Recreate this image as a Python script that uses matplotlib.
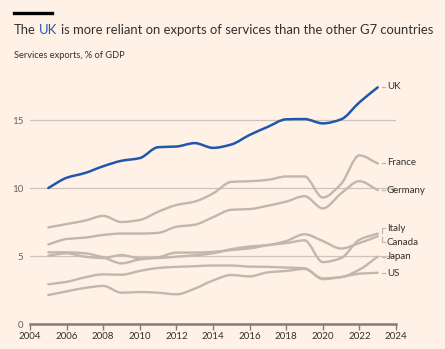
import numpy as np
import matplotlib
matplotlib.use("Agg")
import matplotlib.pyplot as plt
from matplotlib.path import Path
from matplotlib.patches import PathPatch
from matplotlib.font_manager import FontProperties

years = list(range(2005, 2024))
uk      = [10.0, 10.75, 11.1, 11.6, 12.0, 12.2, 13.0, 13.05, 13.3, 12.95, 13.2, 13.9, 14.5, 15.05, 15.07, 14.75, 15.05, 16.3, 17.4]
france  = [7.1, 7.35, 7.6, 7.95, 7.5, 7.65, 8.25, 8.75, 9.0, 9.6, 10.45, 10.5, 10.6, 10.85, 10.85, 9.3, 10.3, 12.4, 11.8]
germany = [5.85, 6.25, 6.35, 6.55, 6.65, 6.65, 6.7, 7.15, 7.3, 7.85, 8.4, 8.45, 8.7, 9.0, 9.4, 8.5, 9.6, 10.5, 9.85]
italy   = [5.27, 5.27, 5.2, 4.9, 4.46, 4.75, 4.9, 5.25, 5.25, 5.3, 5.44, 5.56, 5.8, 5.95, 6.15, 4.55, 4.85, 6.2, 6.65]
canada  = [5.02, 5.2, 4.95, 4.85, 5.07, 4.83, 4.85, 4.95, 5.05, 5.2, 5.5, 5.7, 5.8, 6.1, 6.6, 6.1, 5.55, 5.95, 6.45]
japan   = [2.13, 2.4, 2.65, 2.8, 2.3, 2.35, 2.3, 2.18, 2.6, 3.2, 3.6, 3.5, 3.8, 3.9, 4.05, 3.35, 3.45, 4.0, 4.95]
us      = [2.92, 3.1, 3.43, 3.65, 3.62, 3.9, 4.12, 4.2, 4.25, 4.3, 4.3, 4.22, 4.2, 4.15, 4.1, 3.3, 3.45, 3.7, 3.77]

others = {"France": france, "Germany": germany, "Italy": italy, "Canada": canada, "Japan": japan, "US": us}
label_y = {"UK": 17.43, "France": 11.84, "Germany": 9.85, "Italy": 6.99, "Canada": 5.96, "Japan": 4.93, "US": 3.75}

yticks = [0, 5, 10, 15]
xticks = list(range(2004, 2025, 2))

BG = "#FFF1E5"
BLUE = "#1f57ad"
GREY = "#c1b7ad"
TXT = "#33302e"
SUB = "#66605c"


def smooth_path(xs, ys):
    xs = np.asarray(xs, float)
    ys = np.asarray(ys, float)
    h = np.diff(xs)
    d = np.diff(ys) / h
    n = len(xs)
    m = np.zeros(n)
    m[0] = d[0]
    m[-1] = d[-1]
    for i in range(1, n - 1):
        if d[i - 1] * d[i] <= 0:
            m[i] = 0
        else:
            m[i] = 3 * (h[i - 1] + h[i]) / ((2 * h[i] + h[i - 1]) / d[i - 1] + (h[i] + 2 * h[i - 1]) / d[i])
    verts = [(xs[0], ys[0])]
    codes = [Path.MOVETO]
    for i in range(n - 1):
        verts += [(xs[i] + h[i] / 3, ys[i] + m[i] * h[i] / 3),
                  (xs[i + 1] - h[i] / 3, ys[i + 1] - m[i + 1] * h[i] / 3),
                  (xs[i + 1], ys[i + 1])]
        codes += [Path.CURVE4] * 3
    return Path(verts, codes)


fig = plt.figure(figsize=(4.45, 3.49), dpi=100, facecolor=BG)
ax = fig.add_axes([30 / 445, 25 / 349, 366 / 445, 244.8 / 349])
ax.set_facecolor(BG)
ax.set_xlim(2004, 2024)
ax.set_ylim(0, 18)

for s in ["left", "right", "top"]:
    ax.spines[s].set_visible(False)
ax.spines["bottom"].set_color("#857d77")
ax.spines["bottom"].set_linewidth(1.8)

ax.set_yticks(yticks)
ax.set_yticklabels([str(v) for v in yticks], fontsize=7, color=SUB, family="Lato")
ax.tick_params(axis="y", length=0, pad=5)
ax.set_xticks(xticks)
ax.set_xticklabels([str(v) for v in xticks], fontsize=7, color=TXT, family="Lato")
ax.tick_params(axis="x", length=4, width=1, color="#857d77", pad=2)
ax.yaxis.grid(True, color="#cdc3ba", lw=0.9)
ax.set_axisbelow(True)

for name, vals in others.items():
    ax.add_patch(PathPatch(smooth_path(years, vals), fill=False, edgecolor=GREY, lw=1.7, capstyle="round", zorder=2))
ax.add_patch(PathPatch(smooth_path(years, uk), fill=False, edgecolor=BLUE, lw=1.8, capstyle="round", zorder=3))

# end labels
xd0, xd1, xt = 2023.22, 2023.38, 2023.5
for name, yl in label_y.items():
    if name in ("Italy", "Canada"):
        continue
    ax.plot([xd0, xd1], [yl, yl], color=GREY, lw=0.9, clip_on=False)
    ax.text(xt, yl, name, fontsize=7, color=TXT, family="Lato", va="center", ha="left", clip_on=False)
# bracket for Italy / Canada
ax.plot([xd0, xd0, xd1], [italy[-1] + 0.05, label_y["Italy"] + 0.08, label_y["Italy"] + 0.08], color=GREY, lw=0.9, clip_on=False)
ax.plot([xd0, xd0, xd1], [canada[-1] - 0.05, label_y["Canada"] + 0.05, label_y["Canada"] + 0.05], color=GREY, lw=0.9, clip_on=False)
for name in ("Italy", "Canada"):
    ax.text(xt, label_y[name], name, fontsize=7, color=TXT, family="Lato", va="center", ha="left", clip_on=False)

# header
fig.add_artist(plt.Line2D([14 / 445, 52 / 445], [1 - 13 / 349, 1 - 13 / 349], color="black", lw=2.4))
fs = 9.33
prop = FontProperties(family="Lato", size=fs)
fig.canvas.draw()
r = fig.canvas.get_renderer()


def w(s):
    return r.get_text_width_height_descent(s, prop, ismath=False)[0]


t1, t2, t3 = "The", "UK", "is more reliant on exports of services than the other G7 countries"
x0 = 14
x_uk = x0 + w("The UK") - w("UK")
x_rest = x0 + w("The UK is") - w("is")
ty = 1 - 30 / 349
fig.text(x0 / 445, ty, t1, fontproperties=prop, color=TXT, va="center", ha="left")
fig.text(x_uk / 445, ty, t2, fontproperties=prop, color=BLUE, va="center", ha="left")
fig.text(x_rest / 445, ty, t3, fontproperties=prop, color=TXT, va="center", ha="left")
fig.text(14 / 445, 1 - 56 / 349, "Services exports, % of GDP", fontsize=6.7, color=TXT, family="Lato", va="center", ha="left")

fig.savefig("out.png", dpi=100, facecolor=BG)
